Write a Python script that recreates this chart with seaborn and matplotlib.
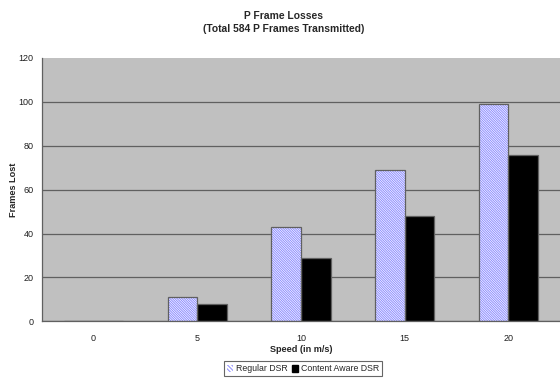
import matplotlib
matplotlib.use("Agg")
import matplotlib.pyplot as plt
from matplotlib.patches import Rectangle
import pandas as pd
import seaborn as sns

# Speeds tested and the P frames lost at each
speeds = ["0", "5", "10", "15", "20"]
regular_dsr = [0, 11, 43, 69, 99]
content_aware_dsr = [0, 8, 29, 48, 76]
series_names = ["Regular DSR", "Content Aware DSR"]
y_ticks = [0, 20, 40, 60, 80, 100, 120]

df = pd.DataFrame({
    "Speed": speeds * 2,
    "Frames": regular_dsr + content_aware_dsr,
    "Series": [series_names[0]] * len(speeds) + [series_names[1]] * len(speeds),
})

sns.set_theme(style="white")
plt.rcParams["font.family"] = ["Liberation Sans", "DejaVu Sans"]
plt.rcParams["hatch.linewidth"] = 0.7

fig = plt.figure(figsize=(5.6, 3.79), dpi=100)
ax = fig.add_axes([0.0745, 0.152, 0.926, 0.695])
ax.set_facecolor("#C0C0C0")

sns.barplot(data=df, x="Speed", y="Frames", hue="Series", order=speeds,
            hue_order=series_names, palette=["white", "black"],
            width=0.57, gap=0, linewidth=0, legend=False, ax=ax, errorbar=None)

n = len(speeds)
bars = ax.patches[:2 * n]
for i, p in enumerate(bars):
    if i < n:
        p.set_hatch("\\" * 14)
        p.set_edgecolor("#8C8CFF")
        p.set_linewidth(0)
    # thin grey outline over each bar
    ax.add_patch(Rectangle(p.get_xy(), p.get_width(), p.get_height(),
                           fill=False, edgecolor="#606060", linewidth=0.9, zorder=3))

ax.set_ylim(0, 120)
ax.set_xlim(-0.5, n - 0.5)
ax.set_yticks(y_ticks)
ax.yaxis.grid(True, color="#606060", linewidth=0.9)
ax.get_ygridlines()[-1].set_visible(False)
ax.set_axisbelow(True)

# category ticks sit between groups
ax.set_xticks(range(n))
ax.set_xticklabels(speeds)
ax.tick_params(axis="x", length=0, labelsize=6.5, pad=9, colors="#202020")
ax.set_xticks([i + 0.5 for i in range(n - 1)], minor=True)
ax.tick_params(axis="x", which="minor", length=4, width=0.8, color="#606060", direction="out")
ax.tick_params(axis="y", length=4, width=0.8, color="#606060", labelsize=6.5,
               pad=2, direction="out")
ax.tick_params(axis="y", colors="#606060", labelcolor="#202020")

for s in ["top", "right"]:
    ax.spines[s].set_visible(False)
for s in ["left", "bottom"]:
    ax.spines[s].set_color("#606060")
    ax.spines[s].set_linewidth(0.9)

ax.set_xlabel("Speed (in m/s)", fontsize=6.6, fontweight="bold", labelpad=1.5)
ax.set_ylabel("Frames Lost", fontsize=6.6, fontweight="bold", labelpad=0)

fig.text(0.506, 0.94, "P Frame Losses\n(Total 584 P Frames Transmitted)",
         ha="center", va="center", fontsize=7.4, fontweight="bold", linespacing=1.35)

handles = [Rectangle((0, 0), 1, 1, facecolor="white", edgecolor="#8C8CFF",
                     hatch="\\" * 8, linewidth=0),
           Rectangle((0, 0), 1, 1, facecolor="black", edgecolor="black")]
leg = fig.legend(handles, series_names, loc="center", bbox_to_anchor=(0.541, 0.027),
                 ncol=2, fontsize=6.3, frameon=True, fancybox=False,
                 handlelength=0.7, handleheight=0.9, handletextpad=0.3,
                 columnspacing=0.5, borderpad=0.35, borderaxespad=0)
leg.get_frame().set_edgecolor("#404040")
leg.get_frame().set_linewidth(0.8)

fig.savefig("out.png", dpi=100)
